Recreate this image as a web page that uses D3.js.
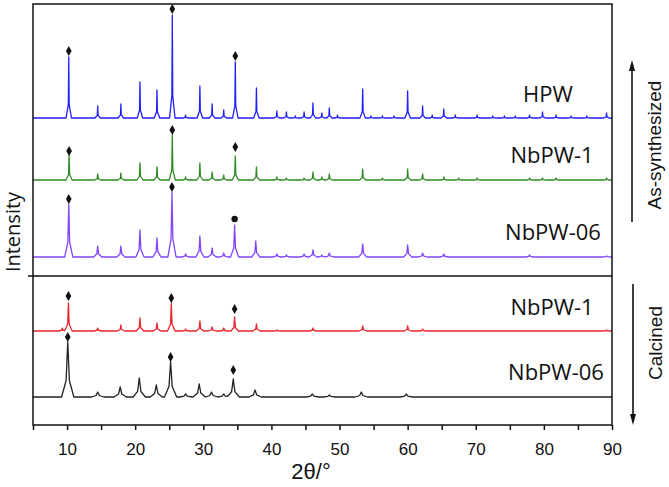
<!DOCTYPE html>
<html>
<head>
<meta charset="utf-8">
<script src="https://cdn.jsdelivr.net/npm/d3@7"></script>
<style>
  html, body { margin: 0; padding: 0; background: #fff; }
  svg { display: block; }
</style>
</head>
<body>
<svg id="chart" width="669" height="487"></svg>
<script>
// ---------------- DATA ----------------
const xTickValues = [5,10,15,20,25,30,35,40,45,50,55,60,65,70,75,80,85,90];
const xTickLabels = ["","10","","20","","30","","40","","50","","60","","70","","80","","90"];

const seriesNames = ["HPW", "NbPW-1", "NbPW-06", "NbPW-1", "NbPW-06"];
const seriesOffsets = [307, 245, 168, 94, 28];   // baseline intensity (a.u.)

// peaks: [2theta, height above baseline (a.u.)]
const hpwPeaks = [[10.25,61],[14.5,12],[17.9,14],[20.7,36],[23.2,28],[25.45,103],[27.4,3],[29.5,32],[31.3,14],[33.0,8],[34.7,56],[37.8,30],[40.8,7],[42.2,6],[43.5,2],[44.8,6],[46.1,15],[47.4,5],[48.5,10],[49.7,3],[53.4,29],[54.6,2],[56.3,2],[58.0,2],[60.0,27],[62.2,12],[63.6,3],[65.3,9],[67.0,3],[70.2,3],[72.5,2],[74.2,2],[75.8,2],[77.9,3],[79.8,6],[81.8,3],[84.0,2],[86.3,2],[89.2,5]];
const nb1Peaks = [[10.3,25],[14.5,6],[17.9,7],[20.7,17],[23.2,13],[25.45,45],[27.4,3],[29.5,17],[31.3,8],[33.0,5],[34.7,24],[37.8,13],[40.8,3],[42.2,2],[44.8,2],[46.1,8],[47.4,3],[48.5,6],[53.4,11],[56.3,2],[60.0,11],[62.2,6],[65.3,3],[67.5,2],[70.2,2],[77.9,2],[79.8,2],[81.8,2],[89.2,2]];
const nb06Peaks = [[10.25,53],[14.5,11],[17.9,11],[20.7,27],[23.2,19],[25.4,65],[27.4,3],[29.5,21],[31.3,9],[33.0,4],[34.6,32],[37.7,16],[40.8,3],[42.2,2],[44.8,3],[46.1,7],[47.4,2],[48.5,4],[53.4,13],[60.0,12],[62.2,4],[65.3,3],[77.9,2],[89.2,1]];
const nb1CalPeaks = [[9.3,3],[10.2,28],[14.5,3],[17.9,6],[20.7,13],[23.2,8],[25.3,28],[27.4,2],[29.5,10],[31.3,4],[33.0,3],[34.6,14],[37.8,7],[40.8,1],[46.1,3],[53.4,5],[60.0,5],[62.2,2],[89.2,1]];
const nb06CalPeaks = [[10.1,55],[14.5,5],[17.8,10],[20.6,19],[23.1,12],[25.2,35],[27.4,3],[29.4,13],[31.2,5],[33.0,3],[34.4,18],[37.6,7],[46.0,3],[48.5,2],[53.2,5],[59.8,3]];
const allPeaks = [hpwPeaks, nb1Peaks, nb06Peaks, nb1CalPeaks, nb06CalPeaks];

// reference-phase markers: [2theta, value above baseline (a.u.)]
const hpwMarks = [[10.25,67],[25.45,109],[34.7,62]];
const nb1Marks = [[10.3,29],[25.45,50],[34.7,33]];
const nb06Marks = [[10.25,58],[25.4,70],[34.6,38]];
const nb1CalMarks = [[10.2,35],[25.3,33],[34.6,22]];
const nb06CalMarks = [[10.1,60],[25.2,40],[34.4,27]];
const allMarks = [hpwMarks, nb1Marks, nb06Marks, nb1CalMarks, nb06CalMarks];
const markShapes = [
  ["d","d","d"],["d","d","d"],["d","d","c"],["d","d","d"],["d","d","d"]
];

// ---------------- STYLE / LAYOUT ----------------
const colors = ["#1f1fff", "#2e8b22", "#8045ff", "#e8262c", "#222222"];
const profile = [ // peak shape: tip half-width, base half-width (deg), shoulder fraction
  {wt:0.06, wb:0.4, s:0.22},
  {wt:0.08, wb:0.45, s:0.22},
  {wt:0.13, wb:0.6, s:0.28},
  {wt:0.11, wb:0.55, s:0.25},
  {wt:0.24, wb:0.9, s:0.3}
];
const labelPos = [[548,102],[552,163],[553,240],[552,315],[556,380]];

const W = 669, H = 487;
const plot = {left: 33, right: 612, top: 4, bottom: 425};
const svg = d3.select("#chart");

const x = d3.scaleLinear().domain([5, 90]).range([plot.left, plot.right]);
const y = d3.scaleLinear().domain([0, 421]).range([plot.bottom, plot.top]);

function buildCurve(peaks, offset, pf) {
  const xs = new Set([5, 90]);
  peaks.forEach(([p]) => {
    [p - pf.wb, p - pf.wt, p, p + pf.wt, p + pf.wb].forEach(v => { if (v > 5 && v < 90) xs.add(+v.toFixed(4)); });
  });
  const sorted = Array.from(xs).sort((a,b) => a-b);
  return sorted.map(t => {
    let v = 0;
    peaks.forEach(([p, h]) => {
      const d = Math.abs(t - p);
      if (d <= pf.wt) v += h * (1 - (1 - pf.s) * d / pf.wt);
      else if (d <= pf.wb) v += h * pf.s * (1 - (d - pf.wt) / (pf.wb - pf.wt));
    });
    return [t, offset + v];
  });
}

const line = d3.line().x(d => x(d[0])).y(d => y(d[1]));

const g = svg.append("g");
allPeaks.forEach((pk, i) => {
  g.append("path")
    .attr("d", line(buildCurve(pk, seriesOffsets[i], profile[i])))
    .attr("fill", "none")
    .attr("stroke", colors[i])
    .attr("stroke-width", 1.3)
    .attr("stroke-linejoin", "round");
});

// markers
const diamond = d3.symbol().type(d3.symbolDiamond).size(28);
allMarks.forEach((mk, i) => {
  mk.forEach((m, j) => {
    const cx = x(m[0]), cy = y(seriesOffsets[i] + m[1]);
    if (markShapes[i][j] === "c") {
      g.append("circle").attr("cx", cx).attr("cy", cy).attr("r", 3.2).attr("fill", "#111");
    } else {
      g.append("path").attr("d", diamond()).attr("transform", `translate(${cx},${cy})`).attr("fill", "#111");
    }
  });
});

// series labels
seriesNames.forEach((n, i) => {
  svg.append("text")
    .attr("x", labelPos[i][0]).attr("y", labelPos[i][1])
    .attr("text-anchor", "middle")
    .attr("font-family", "'Open Sans', sans-serif")
    .attr("font-size", 22)
    .attr("fill", "#111")
    .text(n);
});

// frame
svg.append("rect")
  .attr("x", plot.left).attr("y", plot.top)
  .attr("width", plot.right - plot.left).attr("height", plot.bottom - plot.top)
  .attr("fill", "none").attr("stroke", "#111").attr("stroke-width", 1.5);
// separator between as-synthesized and calcined
svg.append("line")
  .attr("x1", plot.left - 5).attr("x2", plot.right)
  .attr("y1", y(149)).attr("y2", y(149))
  .attr("stroke", "#111").attr("stroke-width", 1.3);

// x axis
const xAxis = d3.axisBottom(x)
  .tickValues(xTickValues)
  .tickSize(5)
  .tickFormat((d, i) => xTickLabels[i]);
const ax = svg.append("g").attr("transform", `translate(0,${plot.bottom})`).call(xAxis);
ax.select(".domain").remove();
ax.selectAll(".tick line").attr("stroke", "#111").attr("stroke-width", 1.5);
ax.selectAll(".tick text")
  .attr("font-family", "'Liberation Sans', Arial, sans-serif")
  .attr("font-size", 17)
  .attr("fill", "#111")
  .attr("dy", null)
  .attr("y", 30);

svg.append("text")
  .attr("x", 311).attr("y", 479)
  .attr("text-anchor", "middle")
  .attr("font-family", "'Liberation Sans', Arial, sans-serif")
  .attr("font-size", 22)
  .attr("fill", "#111")
  .text("2θ/°");

svg.append("text")
  .attr("transform", "translate(20,232) rotate(-90)")
  .attr("text-anchor", "middle")
  .attr("font-family", "'Open Sans', sans-serif")
  .attr("font-size", 20)
  .attr("fill", "#111")
  .text("Intensity");

// right-side annotations
function arrow(xp, y1, y2) { // arrow from y1 to tip at y2
  svg.append("line").attr("x1", xp).attr("x2", xp).attr("y1", y1).attr("y2", y2 + (y2 < y1 ? 8 : -8))
    .attr("stroke", "#111").attr("stroke-width", 1.6);
  const dir = y2 < y1 ? 1 : -1;
  svg.append("path")
    .attr("d", `M${xp},${y2} L${xp-3},${y2 + dir*11} L${xp+3},${y2 + dir*11} Z`)
    .attr("fill", "#111");
}
arrow(632, 222, 60);
arrow(633, 284, 425);

svg.append("text")
  .attr("transform", "translate(661,145) rotate(-90)")
  .attr("text-anchor", "middle")
  .attr("font-family", "'Liberation Sans', Arial, sans-serif")
  .attr("font-size", 19)
  .attr("fill", "#111")
  .text("As-synthesized");
svg.append("text")
  .attr("transform", "translate(662,343) rotate(-90)")
  .attr("text-anchor", "middle")
  .attr("font-family", "'Liberation Sans', Arial, sans-serif")
  .attr("font-size", 19)
  .attr("fill", "#111")
  .text("Calcined");
</script>
</body>
</html>
